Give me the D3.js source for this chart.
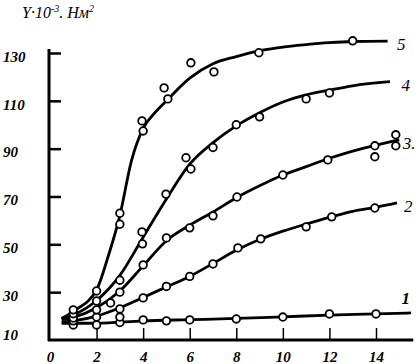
<!DOCTYPE html>
<meta charset="utf-8">
<script src="https://d3js.org/d3.v7.min.js"></script>
<style>
  body { margin: 0; background: #fff; }
  text { font-family: "Liberation Serif", "DejaVu Serif", serif; fill: #000; }
</style>
<div id="chart"></div>
<script>
// tick values
const xTicks = [0, 2, 4, 6, 8, 10, 12, 14];
const yTicks = [10, 30, 50, 70, 90, 110, 130];

// curve names
const curveNames = ["1", "2", "3", "4", "5"];

// smooth lines: [time, Y]
const fit1 = [[0.5,17],[2,17],[4,18],[6,18.5],[8,19],[10,19.7],[12,20.4],[14,20.9],[15.5,21.3]];
const fit2 = [[0.5,17.5],[1,18],[2,20],[3,23.5],[4,27.8],[5,32.2],[6,36.6],[7,42],[8,47.5],[9,52],[10,55.5],[11,58.5],[12,61.3],[13,63.8],[14,65.5],[14.9,67.3]];
const fit3 = [[0.5,18.5],[1,19.5],[2,23.5],[3,30.5],[4,41],[5,51.5],[6,58],[7,63.5],[8,69.5],[9,74.5],[10,79],[11,82.5],[12,86],[13,89],[14,91.5],[15,93.7]];
const fit4 = [[0.5,19],[1,20.5],[2,26.5],[3,37],[4,53],[5,69],[6,83.5],[7,92.5],[8,99.5],[9,105],[10,109.5],[11,112.5],[12,114.5],[13,116.3],[14.6,118]];
const fit5 = [[0.5,19],[1,22],[2,31],[2.5,45],[3,62],[3.5,85],[4,98.5],[4.5,105],[5,110],[6,119.5],[7,125.5],[8,128.5],[9,131],[10,132.5],[11,133.5],[12,134.3],[13,134.8],[14.5,135]];

// measured points
const pts1 = [[1,16.3],[2,16.3],[3,17.3],[4,18.4],[5,18],[6,18.4],[8,18.8],[10,19.6],[12,20.9],[14,20.9]];
const pts2 = [[1,18],[2,19.6],[3,19.6],[3,23],[4,27.6],[5,32.4],[6,36.6],[7,41.8],[8.07,48.5],[9.05,52.3],[11,57.3],[12.1,61.5],[13.95,65.2]];
const pts3 = [[1,19.2],[2,22.6],[2.6,25.5],[3,30],[4,41.4],[5,52.7],[6,56.9],[7,61.9],[8.03,69.8],[10,79],[11.93,85.3],[13.95,91.2],[13.95,86.6],[14.85,95.8],[14.85,91.2]];
const pts4 = [[1,21],[2,26.3],[3,35],[3.95,55.2],[3.97,50.2],[4.98,71],[5.84,86.2],[6.05,81.5],[7,90.5],[8,100],[9,103.3],[11,110.8],[12,113.3]];
const pts5 = [[1,22.6],[2,30.5],[3,63],[3,58.4],[3.95,101.6],[4,97.4],[4.9,115.4],[5.06,110.8],[6.05,125.9],[7.04,122.1],[8.97,130.1],[13,135.1]];

const fits = [fit1, fit2, fit3, fit4, fit5];
const pts = [pts1, pts2, pts3, pts4, pts5];

const width = 420, height = 364;

const svg = d3.select("#chart")
  .append("svg")
    .attr("width", width)
    .attr("height", height);

const x = d3.scaleLinear().domain([0, 14]).range([50, 376]);
const y = d3.scaleLinear().domain([10, 130]).range([340, 53]);

// y axis: ticks pointing inside, labels flush left
const yAxis = svg.append("g")
  .attr("transform", "translate(49,0)")
  .call(d3.axisLeft(y).tickValues(yTicks).tickSizeInner(-12).tickSizeOuter(0));
yAxis.select(".domain").remove();
yAxis.selectAll(".tick line").attr("stroke", "#000").attr("stroke-width", 2.5)
  .filter(d => d === 10).remove();
yAxis.selectAll(".tick text")
  .attr("x", -46)
  .attr("text-anchor", "start")
  .attr("dy", d => d === 10 ? "-0.05em" : "0.55em")
  .style("font-size", "15px")
  .style("font-weight", "bold")
  .style("font-style", "italic");

svg.append("line")
  .attr("x1", 49).attr("x2", 49)
  .attr("y1", y(131.7)).attr("y2", y(10) + 1)
  .attr("stroke", "#000").attr("stroke-width", 3);

// x axis: ticks pointing up
const xAxis = svg.append("g")
  .attr("transform", `translate(0,${y(10)})`)
  .call(d3.axisBottom(x).tickValues(xTicks).tickSizeInner(-12).tickSizeOuter(0).tickPadding(12));
xAxis.select(".domain").remove();
xAxis.selectAll(".tick line").attr("stroke", "#000").attr("stroke-width", 1.5)
  .filter(d => d === 0).remove();
xAxis.selectAll(".tick text")
  .attr("y", 22)
  .attr("dy", 0)
  .style("font-size", "15px")
  .style("font-weight", "bold")
  .style("font-style", "italic");

svg.append("line")
  .attr("x1", 48).attr("x2", x(15.6))
  .attr("y1", y(10)).attr("y2", y(10))
  .attr("stroke", "#000").attr("stroke-width", 3);

// title
const title = svg.append("text")
  .attr("x", 22).attr("y", 18)
  .style("font-size", "16px")
  .style("font-style", "italic");
title.append("tspan").text("Y·10");
title.append("tspan").attr("dy", -6).style("font-size", "10px").text("-3");
title.append("tspan").attr("dy", 6).text(". Нм");
title.append("tspan").attr("dy", -6).style("font-size", "10px").text("2");

// lines
const line = d3.line()
  .x(d => x(d[0]))
  .y(d => y(d[1]))
  .curve(d3.curveMonotoneX);

svg.append("g")
  .selectAll("path")
  .data(fits)
  .join("path")
    .attr("fill", "none")
    .attr("stroke", "#000")
    .attr("stroke-width", 2.8)
    .attr("d", line);

// points
svg.append("g")
  .selectAll("g")
  .data(pts)
  .join("g")
  .selectAll("circle")
  .data(d => d)
  .join("circle")
    .attr("cx", d => x(d[0]))
    .attr("cy", d => y(d[1]))
    .attr("r", 3.8)
    .attr("fill", "#fff")
    .attr("stroke", "#000")
    .attr("stroke-width", 1.8);

// curve labels
const labelPos = [[15.1, 27.5], [15.2, 66], [15.15, 92.5], [15.1, 116.5], [14.9, 133.8]];
svg.append("g")
  .selectAll("text")
  .data(curveNames)
  .join("text")
    .attr("x", (d, i) => x(labelPos[i][0]))
    .attr("y", (d, i) => y(labelPos[i][1]))
    .attr("dy", "0.35em")
    .style("font-size", "17px")
    .style("font-style", "italic")
    .style("font-weight", (d, i) => i === 0 ? "bold" : "normal")
    .text((d, i) => i === 2 ? d + "." : d);
</script>
